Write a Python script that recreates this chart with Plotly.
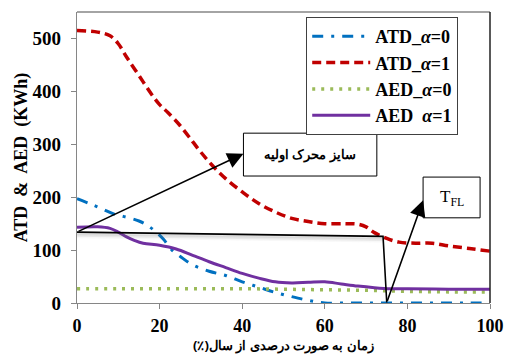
import plotly.graph_objects as go

# --- data -------------------------------------------------------------
atd0_x = [0, 3, 6, 9, 12, 15, 17, 19, 21, 23, 25, 28, 32, 36, 40, 44, 48, 52, 56, 60, 65, 70, 75, 80, 85, 90, 95, 100]
atd0_y = [197, 188, 178, 168, 162, 155, 147, 135, 120, 100, 88, 72, 60, 52, 40, 30, 20, 12, 5, 0, 0, 0, 0, 0, 0, 0, 0, 0]

atd1_x = [0, 5, 8, 10, 12, 15, 18, 20, 22, 25, 28, 30, 33, 36, 40, 44, 48, 52, 56, 60, 65, 68, 70, 72, 75, 78, 82, 86, 90, 95, 100]
atd1_y = [515, 512, 505, 490, 465, 430, 395, 375, 360, 335, 305, 285, 258, 235, 210, 188, 172, 160, 154, 150, 150, 149, 144, 133, 122, 115, 113, 113, 108, 103, 98]

aed0_x = [0, 10, 20, 30, 40, 50, 60, 70, 80, 90, 100]
aed0_y = [27, 27, 27, 27, 27, 26, 25, 24, 22, 21, 21]

aed1_x = [0, 5, 8, 10, 12, 14, 16, 20, 24, 28, 32, 36, 40, 44, 48, 52, 56, 60, 64, 68, 72, 76, 80, 90, 100]
aed1_y = [143, 144, 141, 134, 125, 118, 113, 109, 102, 90, 78, 67, 56, 47, 40, 38, 39, 40, 36, 32, 29, 27, 27, 26, 26]

# outline marking the prime-mover size and full-load time
size_path_x = [0, 74.1, 75]
size_path_y = [134, 126, 1]

x_ticks = [0, 20, 40, 60, 80, 100]
y_ticks = [0, 100, 200, 300, 400, 500]

FONT = "Liberation Serif"
RLM = "\u200f"

fig = go.Figure()

fig.add_trace(go.Scatter(
    x=atd0_x, y=atd0_y, mode="lines", name="<b>ATD_<i>α</i>=0</b>",
    line=dict(color="#0070c0", width=3, dash="11px,8px,3px,8px", shape="spline")))
fig.add_trace(go.Scatter(
    x=atd1_x, y=atd1_y, mode="lines", name="<b>ATD_<i>α</i>=1</b>",
    line=dict(color="#c00000", width=3.5, dash="9px,5px", shape="spline")))
fig.add_trace(go.Scatter(
    x=aed0_x, y=aed0_y, mode="lines", name="<b>AED_<i>α</i>=0</b>",
    line=dict(color="#9bbb59", width=3.5, dash="3px,6px", shape="spline")))
fig.add_trace(go.Scatter(
    x=aed1_x, y=aed1_y, mode="lines", name="<b>AED\u00a0\u00a0<i>α</i>=1</b>",
    line=dict(color="#7030a0", width=3, shape="spline")))

# soft shadow under the horizontal size line
for off, alpha in [(3, 0.16), (6, 0.10), (9, 0.05)]:
    fig.add_trace(go.Scatter(
        x=[size_path_x[0], size_path_x[1]], y=[size_path_y[0] - off, size_path_y[1] - off],
        mode="lines", line=dict(color=f"rgba(110,110,110,{alpha})", width=3),
        hoverinfo="skip", showlegend=False))
fig.add_trace(go.Scatter(
    x=size_path_x, y=size_path_y, mode="lines",
    line=dict(color="black", width=1.6), hoverinfo="skip", showlegend=False))

# callout boxes
fig.add_shape(type="rect", xref="x", yref="y", x0=40.3, x1=72.6, y0=240, y1=321,
              line=dict(color="black", width=1), fillcolor="white")
fig.add_shape(type="rect", xref="x", yref="y", x0=83.8, x1=97.6, y0=161, y1=238,
              line=dict(color="black", width=1), fillcolor="white")

fig.add_annotation(x=56.4, y=281, xref="x", yref="y", showarrow=False,
                   text="<b>سایز محرک اولیه</b>",
                   font=dict(family="Noto Sans", size=12.5, color="black"))
fig.add_annotation(x=90.7, y=199, xref="x", yref="y", showarrow=False,
                   text="T<sub>FL</sub>",
                   font=dict(family=FONT, size=17, color="black"))

# arrows
fig.add_annotation(x=40.3, y=282, ax=0, ay=134, xref="x", yref="y", axref="x", ayref="y",
                   text="", showarrow=True, arrowhead=2, arrowsize=2, arrowwidth=1.6,
                   arrowcolor="black")
fig.add_annotation(x=83.8, y=194, ax=75, ay=1, xref="x", yref="y", axref="x", ayref="y",
                   text="", showarrow=True, arrowhead=2, arrowsize=2, arrowwidth=1.6,
                   arrowcolor="black")

# x-axis title, set just under the tick labels
fig.add_annotation(x=0.5, y=0, xref="paper", yref="paper", yanchor="middle",
                   yshift=-42, showarrow=False,
                   text="<b>زمان به صورت درصدی از سال(٪)" + RLM + "</b>",
                   font=dict(family="Noto Sans", size=13, color="black"))

# plot-area frame (top and right)
fig.add_shape(type="line", xref="paper", yref="paper", x0=0, x1=1, y0=1, y1=1,
              line=dict(color="#868686", width=1.3))
fig.add_shape(type="line", xref="paper", yref="paper", x0=1, x1=1, y0=0, y1=1,
              line=dict(color="#222222", width=1.5))

tick_font = dict(family=FONT, size=19, color="black")

fig.update_layout(
    width=506, height=354,
    margin=dict(l=77, r=16, t=12, b=51),
    paper_bgcolor="white", plot_bgcolor="white",
    showlegend=True,
    legend=dict(
        x=0.555, y=0.983, xanchor="left", yanchor="top",
        bgcolor="white", bordercolor="#404040", borderwidth=1,
        font=dict(family=FONT, size=18, color="black"),
        tracegroupgap=0, itemwidth=58,
    ),
    xaxis=dict(
        range=[0, 100], tickvals=x_ticks, ticktext=[f"<b>{v}</b>" for v in x_ticks],
        showgrid=False, zeroline=False, showline=True, linecolor="#868686", linewidth=1.3,
        ticks="outside", ticklen=5, tickcolor="#868686",
        tickfont=dict(family=FONT, size=18, color="black"),
        ticklabelstandoff=1, automargin=False,
    ),
    yaxis=dict(
        range=[0, 550], tickvals=y_ticks, ticktext=[f"<b>{v}</b>" for v in y_ticks],
        showgrid=False, zeroline=False, showline=True, linecolor="#868686", linewidth=1.3,
        ticks="outside", ticklen=5, tickcolor="#868686", tickfont=tick_font,
        ticklabelstandoff=6, automargin=False,
        title=dict(text="<b>ATD  &  AED  (KWh)</b>",
                   font=dict(family=FONT, size=18, color="black"), standoff=0),
    ),
)

fig.write_html("out.html")
